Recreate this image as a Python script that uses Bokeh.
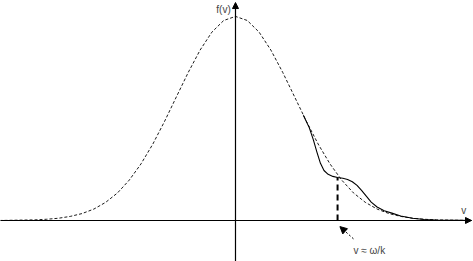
from bokeh.plotting import figure
from bokeh.models import Arrow, NormalHead, Label
from bokeh.embed import file_html
from bokeh.resources import INLINE

# Maxwellian f(v) (dotted); v in units of thermal spread, f normalised to peak
v_maxw = [-4.0, -3.8, -3.6, -3.4, -3.2, -3.0, -2.8, -2.6, -2.4, -2.2, -2.0, -1.8, -1.6, -1.4,
          -1.2, -1.0, -0.8, -0.6, -0.4, -0.2, 0.0, 0.2, 0.4, 0.6, 0.8, 1.0, 1.2, 1.4, 1.6, 1.8,
          2.0, 2.2, 2.4, 2.6, 2.8, 3.0, 3.2, 3.4, 3.6, 3.8, 4.0]
f_maxw = [0.000, 0.001, 0.002, 0.003, 0.006, 0.011, 0.020, 0.034, 0.056, 0.089, 0.135, 0.198,
          0.278, 0.375, 0.487, 0.607, 0.726, 0.835, 0.923, 0.980, 1.000, 0.980, 0.923, 0.835,
          0.726, 0.607, 0.487, 0.375, 0.278, 0.198, 0.135, 0.089, 0.056, 0.034, 0.020, 0.011,
          0.006, 0.003, 0.002, 0.001, 0.000]

# flattened (plateau) distribution near v = omega/k (solid)
v_flat = [1.15, 1.25, 1.32, 1.38, 1.44, 1.50, 1.57, 1.65, 1.73, 1.82, 1.90, 1.98, 2.06, 2.14,
          2.22, 2.30, 2.40, 2.52, 2.65, 2.80, 3.00, 3.20, 3.40, 3.60, 3.80, 4.00]
f_flat = [0.516, 0.455, 0.395, 0.335, 0.280, 0.245, 0.226, 0.216, 0.211, 0.207, 0.201, 0.190,
          0.172, 0.146, 0.118, 0.090, 0.066, 0.048, 0.036, 0.022, 0.011, 0.005, 0.002, 0.001,
          0.001, 0.000]

v_phase = 1.73          # v ≈ ω/k
f_phase = 0.211

FONT = "Liberation Sans"

x_lo, x_hi = -3.983, 4.034
y_lo, y_hi = -0.201, 1.078

p = figure(width=473, height=261, x_range=(x_lo, x_hi), y_range=(y_lo, y_hi),
           output_backend="svg", toolbar_location=None, min_border=0)
p.axis.visible = False
p.grid.visible = False
p.outline_line_color = None

# axes with arrows
p.add_layout(Arrow(end=NormalHead(size=6, fill_color="black", line_color="black"),
                   x_start=x_lo, y_start=0, x_end=4.0, y_end=0,
                   line_color="black", line_width=1.2))
p.add_layout(Arrow(end=NormalHead(size=6, fill_color="black", line_color="black"),
                   x_start=0, y_start=y_lo, x_end=0, y_end=1.068,
                   line_color="black", line_width=1.2))

# curves
p.line(v_maxw, f_maxw, line_color="black", line_width=0.9, line_dash="3 2")
p.line(v_flat, f_flat, line_color="black", line_width=1.1)

# vertical dashed line at v = omega/k
p.segment(x0=[v_phase], y0=[0], x1=[v_phase], y1=[f_phase],
          line_color="black", line_width=2, line_dash="6 4")

# annotation arrow
p.add_layout(Arrow(end=NormalHead(size=7, fill_color="black", line_color="black"),
                   x_start=v_phase + 0.27, y_start=-0.09,
                   x_end=v_phase + 0.04, y_end=-0.03,
                   line_color="black", line_width=1, line_dash="2 2"))

p.add_layout(Label(x=v_phase + 0.27, y=-0.145, text="v ≈ ω/k", text_font=FONT,
                   text_font_size="10px", text_align="left", text_baseline="middle"))
p.add_layout(Label(x=-0.08, y=1.035, text="f(v)", text_font=FONT,
                   text_font_size="10px", text_align="right", text_baseline="middle"))
p.add_layout(Label(x=3.87, y=0.05, text="v", text_font=FONT,
                   text_font_size="10px", text_align="center", text_baseline="middle"))

open("out.html", "w").write(file_html(p, INLINE))
